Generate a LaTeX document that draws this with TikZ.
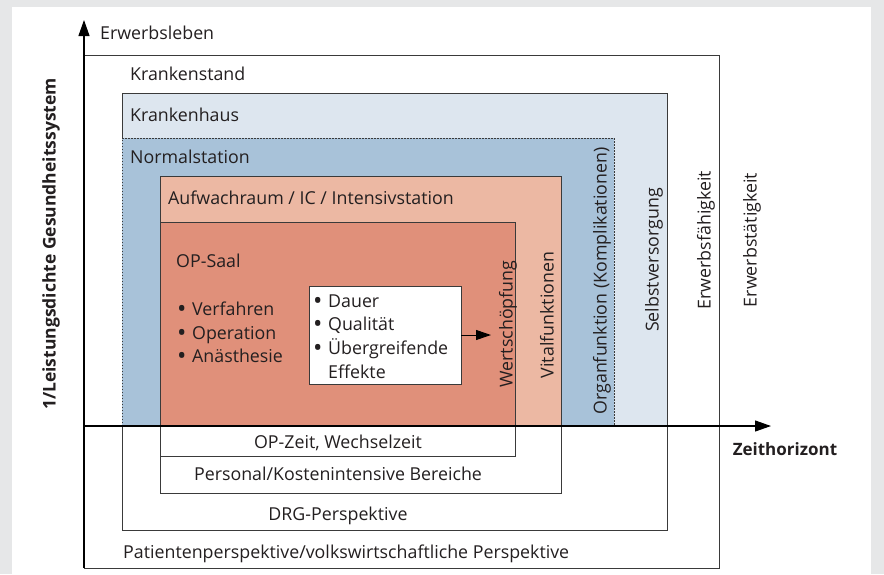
\documentclass[tikz,border=0pt]{standalone}
\usepackage{fontspec}
\usepackage{graphicx}
\setmainfont{Open Sans}
\usetikzlibrary{arrows.meta}
\definecolor{bggray}{HTML}{E6E7E8}
\definecolor{khblue}{HTML}{DDE6EF}
\definecolor{nsblue}{HTML}{A8C2D9}
\definecolor{awsalmon}{HTML}{ECB8A3}
\definecolor{opsalmon}{HTML}{E0907A}
\definecolor{linegray}{HTML}{3A3A3A}
\definecolor{txt}{HTML}{231F20}
\newcommand{\bul}{\makebox[15pt][l]{\raisebox{-2.5pt}{\scalebox{1.4}{•}}}}
\begin{document}
\begin{tikzpicture}[x=1pt,y=-1pt,
  lbl/.style={inner sep=0pt, anchor=base west, font=\fontsize{17.8}{20}\selectfont, text=txt},
  clbl/.style={inner sep=0pt, anchor=base, font=\fontsize{17.8}{20}\selectfont, text=txt},
  vlbl/.style={inner sep=0pt, rotate=90, anchor=center, font=\fontsize{17.8}{20}\selectfont, text=txt},
  boxline/.style={draw=linegray, line width=0.9pt},
  dotline/.style={draw=linegray, line width=0.9pt, dash pattern=on 1.5pt off 1.5pt},
  axis/.style={draw=black, line width=1.1pt, -{Triangle[length=16pt,width=11pt]}},
  smallarrow/.style={draw=black, line width=1pt, -{Triangle[length=15pt,width=10pt]}}]
\useasboundingbox (0,0) rectangle (884,574);
\fill[bggray] (0,0) rectangle (884,574);
\fill[white] (12,7) rectangle (871,574);
% fills
\fill[khblue] (122,93) rectangle (667,426);
\fill[nsblue] (122,138) rectangle (614,426);
\fill[awsalmon] (160,176) rectangle (561,426);
\fill[opsalmon] (160,222) rectangle (515,426);
% outlines
\draw[boxline] (84,55) rectangle (719,568);
\draw[boxline] (122,138) -- (122,93) -- (667,93) -- (667,530) -- (122,530) -- (122,426);
\draw[dotline] (122,426) -- (122,138) -- (614,138) -- (614,426);
\draw[boxline] (160,176) rectangle (561,493);
\draw[boxline] (160,222) rectangle (515,456);
% axes
\coordinate (O) at (84,426);
\coordinate (ytip) at (84,20);
\coordinate (ybot) at (84,568);
\coordinate (xtip) at (771,426);
\draw[axis] (ybot) -- (ytip);
\draw[axis] (O) -- (xtip);
% white box
\node[draw=linegray, line width=0.9pt, fill=white, minimum width=152pt, minimum height=98pt, inner sep=0pt] (wbox) at (385,335) {};
\coordinate (wtip) at (491,335);
\draw[smallarrow] (wbox.east) -- (wtip);
% labels
\node[lbl] (erw) at (100,39) {Erwerbsleben};
\node[lbl] (kst) at (130,80) {Krankenstand};
\node[lbl] (kh) at (130,121) {Krankenhaus};
\node[lbl] (ns) at (130,163) {Normalstation};
\node[lbl] (aw) at (168,204) {Aufwachraum / IC / Intensivstation};
\node[lbl] (op) at (176,267) {OP-Saal};
\node[lbl] (b1) at (177,315) {\bul Verfahren};
\node[lbl] (b2) at (177,339) {\bul Operation};
\node[lbl] (b3) at (177,362) {\bul Anästhesie};
\node[lbl] (d1) at (313,307) {\bul Dauer};
\node[lbl] (d2) at (313,330) {\bul Qualität};
\node[lbl] (d3) at (313,354) {\bul Übergreifende};
\node[lbl] (d4) at (328,378) {Effekte};
\node[vlbl] (ws) at (508,324) {Wertschöpfung};
\node[vlbl] (vf) at (547,315) {Vitalfunktionen};
\node[vlbl] (of) at (602,281) {Organfunktion (Komplikationen)};
\node[vlbl] (sv) at (654,260) {Selbstversorgung};
\node[vlbl] (ef) at (706,240) {Erwerbsfähigkeit};
\node[vlbl] (et) at (752,240) {Erwerbstätigkeit};
\node[clbl] (opz) at (338,448) {OP-Zeit, Wechselzeit};
\node[clbl] (pers) at (338,480) {Personal/Kostenintensive Bereiche};
\node[clbl] (drg) at (338,520) {DRG-Perspektive};
\node[lbl] (pat) at (123,558) {Patientenperspektive/volkswirtschaftliche Perspektive};
\node[inner sep=0pt, anchor=base, font=\fontsize{17}{20}\selectfont\bfseries, text=txt] (zh) at (785,455) {Zeithorizont};
\node[inner sep=0pt, rotate=90, anchor=center, font=\fontsize{17.5}{20}\selectfont\bfseries, text=txt] (yl) at (51,244) {1/Leistungsdichte Gesundheitssystem};
\end{tikzpicture}
\end{document}
